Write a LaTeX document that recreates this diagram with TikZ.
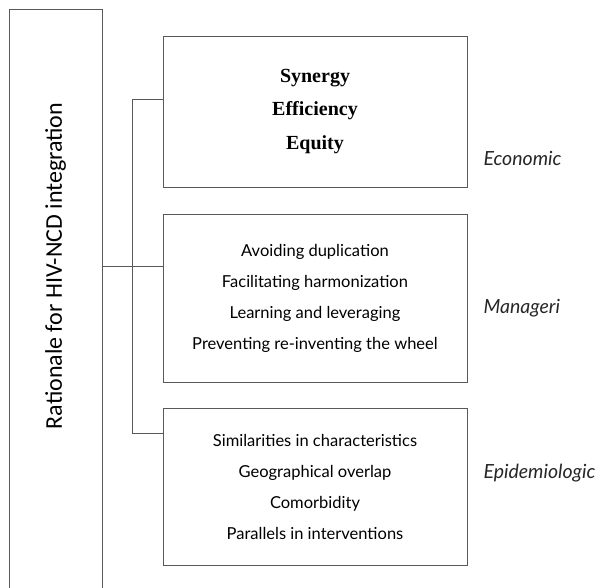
\documentclass[tikz,border=0pt]{standalone}
\usepackage{fontspec}
\setmainfont{Liberation Serif}
\newfontfamily\carlito{Carlito}
\newfontfamily\lato{Lato}
\usetikzlibrary{positioning}

\begin{document}
\begin{tikzpicture}[x=1pt,y=-1pt,
	line/.style={draw=black!65, line width=0.9pt},
	reasonbox/.style={line, minimum width=304pt, inner sep=0pt, align=center},
	listtext/.style={font=\lato\fontsize{16.5}{31}\selectfont},
	kind/.style={anchor=west, font=\lato\itshape\fontsize{19.5}{22}\selectfont, text=black!85}]
		\useasboundingbox (0,0) rectangle (600,587);
		\clip (0,0) rectangle (600,587);
		
		\node[line, minimum width=93pt, minimum height=600pt, anchor=north west] (root) at (9,9) {};
		\node[rotate=90, font=\carlito\fontsize{24}{28}\selectfont] (rootlabel) at (55.5,266) {Rationale for HIV-NCD integration};
		
		\node[reasonbox, minimum height=151pt, font=\bfseries\fontsize{20}{33.5}\selectfont] (econ) at (315,111.5) {Synergy\\Efficiency\\Equity};
		\node[reasonbox, minimum height=168pt, listtext] (manage) at (315,298) {Avoiding duplication\\Facilitating harmonization\\Learning and leveraging\\Preventing re-inventing the wheel};
		\node[reasonbox, minimum height=157pt, listtext] (epi) at (315,486.5) {Similarities in characteristics\\Geographical overlap\\Comorbidity\\Parallels in interventions};
		
		\node[kind] (econlabel) at (480,158) {Economic};
		\node[kind] (managelabel) at (480,308) {Manageri};
		\node[kind] (epilabel) at (480,473) {Epidemiologic};
		
		\coordinate (trunk) at (132,266);
		\coordinate (j1) at (132,99);
		\coordinate (j3) at (132,433);
		
		\draw[line] (rootlabel -| root.east) -- (trunk);
		\draw[line] (j1) -- (j3);
		\draw[line] (j1) -- (j1 -| econ.west);
		\draw[line] (trunk) -- (trunk -| manage.west);
		\draw[line] (j3) -- (j3 -| epi.west);
\end{tikzpicture}
\end{document}
